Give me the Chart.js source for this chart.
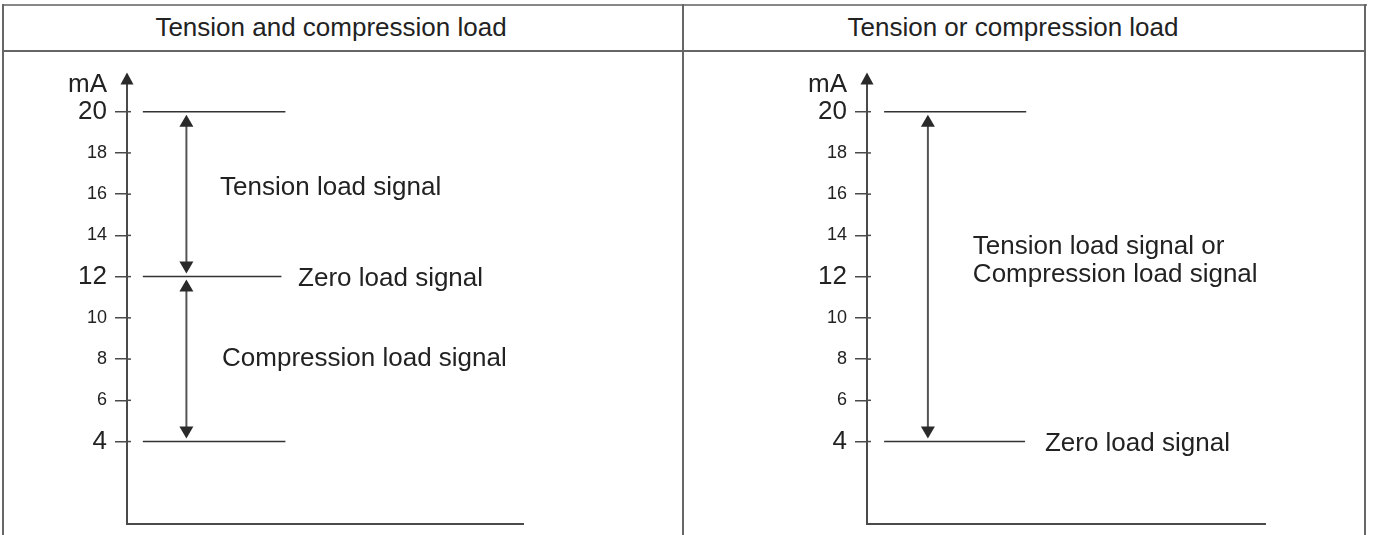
<!DOCTYPE html>
<html>
<head>
<meta charset="utf-8">
<script src="https://cdn.jsdelivr.net/npm/chart.js@4"></script>
<style>
  html, body { margin: 0; padding: 0; background: #fff; overflow: hidden; }
  body { width: 1373px; height: 535px; position: relative; font-family: "Liberation Sans", Arial, Helvetica, sans-serif; }
  .rule { position: absolute; background: #666; }
  .head { position: absolute; top: 4px; height: 46px; line-height: 46px; text-align: center; font-size: 26px; color: #222; }
  canvas { position: absolute; }
</style>
</head>
<body>
<div class="rule" style="left:2px; top:4px; width:1365px; height:2px; background:#888"></div>
<div class="rule" style="left:2px; top:4px; width:2px; height:540px"></div>
<div class="rule" style="left:682px; top:4px; width:2px; height:540px"></div>
<div class="rule" style="left:1364px; top:4px; width:2px; height:540px"></div>
<div class="rule" style="left:2px; top:50px; width:1364px; height:2px"></div>
<div class="head" id="headLeft" style="left:4px; width:654px"></div>
<div class="head" id="headRight" style="left:684px; width:658px"></div>
<canvas id="leftPanel" width="680" height="500" style="left:3px; top:51px"></canvas>
<canvas id="rightPanel" width="682" height="500" style="left:683px; top:51px"></canvas>
<script>
const FONT = '"Liberation Sans", Arial, Helvetica, sans-serif';
const AXIS_COLOR = '#4a4a4a';
const LINE_COLOR = '#333';
const TEXT_COLOR = '#222';

// Shared axis data
const headerTitles = ['Tension and compression load', 'Tension or compression load'];
const tickValues = [4, 6, 8, 10, 12, 14, 16, 18, 20];
const majorTickValues = [4, 12, 20];
const unitLabel = 'mA';
const unitLabelAt = 21.3;
const yMax = 21.8;
const xMax = 100;

// Left panel: tension and compression
const leftLevelValues = [20, 12, 4];
const leftLevelStart = [4, 4, 4];
const leftLevelEnd = [40, 39, 40];
const leftArrowFrom = [20, 12];
const leftArrowTo = [12, 4];
const leftArrowX = 15;
const leftLabelText = [['Tension load signal'], ['Zero load signal'], ['Compression load signal']];
const leftLabelX = [23.5, 43.2, 24];
const leftLabelY = [16.3, 11.9, 8];

// Right panel: tension or compression
const rightLevelValues = [20, 4];
const rightLevelStart = [4.3, 4.3];
const rightLevelEnd = [40, 39.7];
const rightArrowFrom = [20];
const rightArrowTo = [4];
const rightArrowX = 15.3;
const rightLabelText = [['Tension load signal or', 'Compression load signal'], ['Zero load signal']];
const rightLabelX = [26.6, 44.7];
const rightLabelY = [12.75, 3.9];

document.getElementById('headLeft').textContent = headerTitles[0];
document.getElementById('headRight').textContent = headerTitles[1];

// filled triangle, dir -1 points up, +1 points down
function drawHead(ctx, x, tipY, dir, w, h) {
    ctx.beginPath();
    ctx.moveTo(x, tipY);
    ctx.lineTo(x - w / 2, tipY - dir * h);
    ctx.lineTo(x + w / 2, tipY - dir * h);
    ctx.closePath();
    ctx.fill();
}

function createPanel(canvasId, panel) {
    const datasets = [];

    panel.levels.forEach((v, i) => {
        datasets.push({
            data: [{ x: panel.levelStart[i], y: v }, { x: panel.levelEnd[i], y: v }],
            borderColor: LINE_COLOR,
            borderWidth: 1.5,
            pointRadius: 0
        });
    });

    panel.arrowFrom.forEach((v, i) => {
        datasets.push({
            arrow: true,
            data: [{ x: panel.arrowX, y: v }, { x: panel.arrowX, y: panel.arrowTo[i] }],
            showLine: false,
            pointRadius: 0
        });
    });

    const panelPlugin = {
        id: 'panelDecor',
        afterDatasetsDraw(chart) {
            const ctx = chart.ctx;
            const area = chart.chartArea;
            const xs = chart.scales.x;
            const ys = chart.scales.y;
            ctx.save();

            // arrowhead on the y axis
            ctx.fillStyle = '#2a2a2a';
            drawHead(ctx, area.left, area.top - 2, -1, 13, 12);

            // short inner part of the tick marks
            ctx.strokeStyle = AXIS_COLOR;
            ctx.lineWidth = 1.5;
            tickValues.forEach(v => {
                const py = ys.getPixelForValue(v);
                ctx.beginPath();
                ctx.moveTo(area.left, py);
                ctx.lineTo(area.left + 4, py);
                ctx.stroke();
            });

            // double headed arrows
            chart.data.datasets.forEach((ds, i) => {
                if (!ds.arrow) return;
                const pts = chart.getDatasetMeta(i).data;
                const a = pts[0];
                const b = pts[pts.length - 1];
                const dir = b.y > a.y ? 1 : -1;
                const gap = 3;
                const head = 12;
                const y0 = a.y + dir * gap;
                const y1 = b.y - dir * gap;
                ctx.strokeStyle = '#555';
                ctx.lineWidth = 2;
                ctx.beginPath();
                ctx.moveTo(a.x, y0 + dir * (head - 1));
                ctx.lineTo(a.x, y1 - dir * (head - 1));
                ctx.stroke();
                ctx.fillStyle = '#2a2a2a';
                drawHead(ctx, a.x, y0, -dir, 14, head);
                drawHead(ctx, b.x, y1, dir, 14, head);
            });

            // text labels
            ctx.fillStyle = TEXT_COLOR;
            ctx.font = '26px ' + FONT;
            ctx.textAlign = 'left';
            ctx.textBaseline = 'middle';
            const lineHeight = 28;
            panel.labelText.forEach((lines, i) => {
                const px = xs.getPixelForValue(panel.labelX[i]);
                const py = ys.getPixelForValue(panel.labelY[i]);
                const startY = py - (lines.length - 1) * lineHeight / 2;
                lines.forEach((t, k) => ctx.fillText(t, px, startY + k * lineHeight));
            });

            ctx.restore();
        }
    };

    return new Chart(document.getElementById(canvasId), {
        type: 'line',
        data: { datasets },
        options: {
            responsive: false,
            animation: false,
            devicePixelRatio: 1,
            layout: { padding: panel.padding },
            plugins: {
                legend: { display: false },
                tooltip: { enabled: false }
            },
            scales: {
                x: {
                    type: 'linear',
                    min: 0,
                    max: xMax,
                    ticks: { display: false },
                    grid: { display: false },
                    border: { display: true, color: AXIS_COLOR, width: 2 },
                    afterFit: (scale) => { scale.height = 0; }
                },
                y: {
                    type: 'linear',
                    min: 0,
                    max: yMax,
                    afterBuildTicks: (axis) => {
                        axis.ticks = tickValues.map(v => ({ value: v })).concat([{ value: unitLabelAt }]);
                    },
                    afterFit: (scale) => { scale.width = 110; },
                    ticks: {
                        padding: 8,
                        color: TEXT_COLOR,
                        font: (ctx) => ({
                            family: FONT,
                            size: ctx.tick && (majorTickValues.includes(ctx.tick.value) || ctx.tick.value === unitLabelAt) ? 26 : 18
                        }),
                        callback: (value) => value === unitLabelAt ? unitLabel : String(value)
                    },
                    grid: {
                        drawOnChartArea: false,
                        drawTicks: true,
                        tickLength: 12,
                        lineWidth: 1.5,
                        color: (ctx) => ctx.tick && ctx.tick.value === unitLabelAt ? 'rgba(0,0,0,0)' : AXIS_COLOR
                    },
                    border: { display: true, color: AXIS_COLOR, width: 2 }
                }
            }
        },
        plugins: [panelPlugin]
    });
}

createPanel('leftPanel', {
    levels: leftLevelValues,
    levelStart: leftLevelStart,
    levelEnd: leftLevelEnd,
    arrowFrom: leftArrowFrom,
    arrowTo: leftArrowTo,
    arrowX: leftArrowX,
    labelText: leftLabelText,
    labelX: leftLabelX,
    labelY: leftLabelY,
    padding: { left: 14, right: 160, top: 21, bottom: 27 }
});

createPanel('rightPanel', {
    levels: rightLevelValues,
    levelStart: rightLevelStart,
    levelEnd: rightLevelEnd,
    arrowFrom: rightArrowFrom,
    arrowTo: rightArrowTo,
    arrowX: rightArrowX,
    labelText: rightLabelText,
    labelX: rightLabelX,
    labelY: rightLabelY,
    padding: { left: 74, right: 100, top: 21, bottom: 27 }
});
</script>
</body>
</html>
